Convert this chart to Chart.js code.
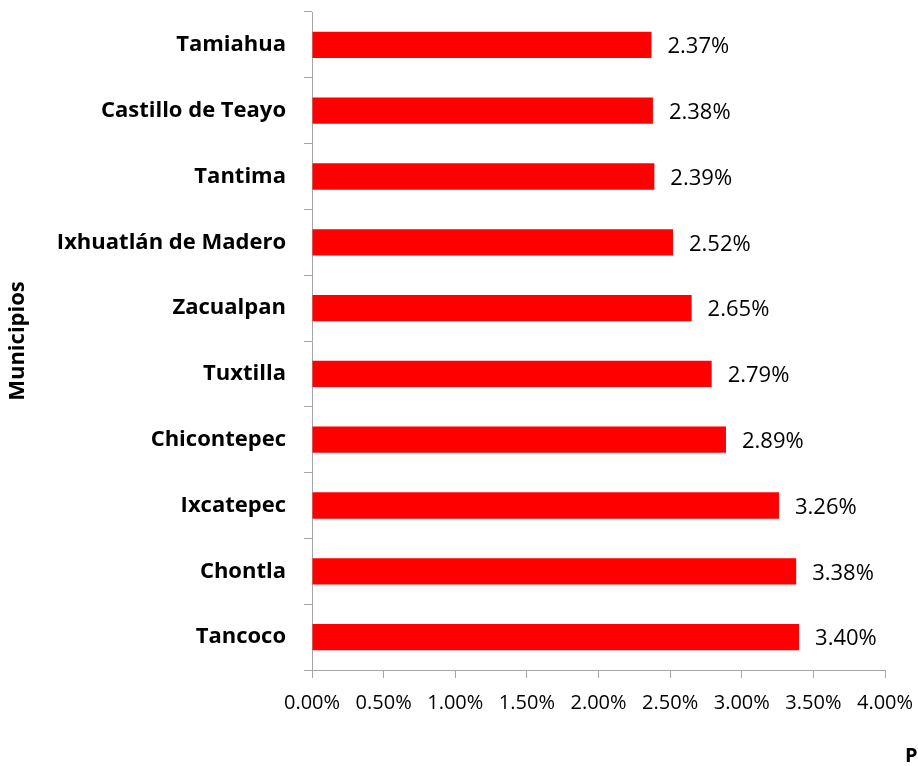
<!DOCTYPE html>
<html>
<head>
<meta charset="utf-8">
<script src="https://cdn.jsdelivr.net/npm/chart.js@4/dist/chart.umd.min.js"></script>
<style>
  html, body { margin: 0; padding: 0; background: #fff; }
  #wrap { width: 918px; height: 766px; }
</style>
</head>
<body>
<div id="wrap"><canvas id="barChart"></canvas></div>
<script>
const municipios = ['Tamiahua', 'Castillo de Teayo', 'Tantima', 'Ixhuatlán de Madero', 'Zacualpan',
    'Tuxtilla', 'Chicontepec', 'Ixcatepec', 'Chontla', 'Tancoco'];
const porcentajes = [2.37, 2.38, 2.39, 2.52, 2.65, 2.79, 2.89, 3.26, 3.38, 3.40];
const xTicks = [0, 0.5, 1, 1.5, 2, 2.5, 3, 3.5, 4];
const yTitle = 'Municipios';
const xTitle = 'Porcentaje';

const axisGray = '#a6a6a6';

// value labels at the end of each bar + the x title in the corner
const barLabels = {
    id: 'barLabels',
    afterDatasetsDraw(chart) {
        const c = chart.ctx;
        const meta = chart.getDatasetMeta(0);
        c.save();
        c.font = '22px "Open Sans"';
        c.fillStyle = '#000';
        c.textAlign = 'left';
        c.textBaseline = 'middle';
        meta.data.forEach((bar, i) => {
            c.fillText(porcentajes[i].toFixed(2) + '%', bar.x + 16, bar.y + 2);
        });
        c.font = 'bold 20px "Open Sans"';
        c.fillText(xTitle, 905, 756);
        c.restore();
    }
};

const ctx = document.getElementById('barChart').getContext('2d');
const chart = new Chart(ctx, {
    type: 'bar',
    data: {
        labels: municipios,
        datasets: [{
            data: porcentajes,
            backgroundColor: '#ff0000',
            borderWidth: 0,
            barPercentage: 0.4,
            categoryPercentage: 1
        }]
    },
    options: {
        indexAxis: 'y',
        responsive: true,
        maintainAspectRatio: false,
        animation: false,
        layout: { padding: { top: 12, right: 33, left: 0, bottom: 0 } },
        plugins: {
            legend: { display: false },
            tooltip: { enabled: false }
        },
        scales: {
            x: {
                min: 0,
                max: 4,
                afterBuildTicks: s => { s.ticks = xTicks.map(v => ({ value: v })); },
                afterFit: s => { s.height = 96; s.paddingLeft = 0; s.paddingRight = 0; },
                grid: { drawOnChartArea: false, color: axisGray, tickLength: 8, lineWidth: 1 },
                border: { color: axisGray, width: 1 },
                ticks: {
                    font: { family: 'Open Sans', size: 20 },
                    color: '#000',
                    padding: 13,
                    maxRotation: 0,
                    callback: v => v.toFixed(2) + '%'
                }
            },
            y: {
                afterFit: s => { s.width = 312; s.paddingTop = 0; s.paddingBottom = 0; },
                grid: { drawOnChartArea: false, color: axisGray, tickLength: 8, offset: true },
                border: { color: axisGray, width: 1 },
                ticks: {
                    font: { family: 'Open Sans', size: 22, weight: 'bold' },
                    color: '#000',
                    padding: 18
                },
                title: {
                    display: true,
                    text: yTitle,
                    font: { family: 'Open Sans', size: 22, weight: 'bold' },
                    color: '#000',
                    padding: { top: 5, bottom: 0 }
                }
            }
        }
    },
    plugins: [barLabels]
});
</script>
</body>
</html>
